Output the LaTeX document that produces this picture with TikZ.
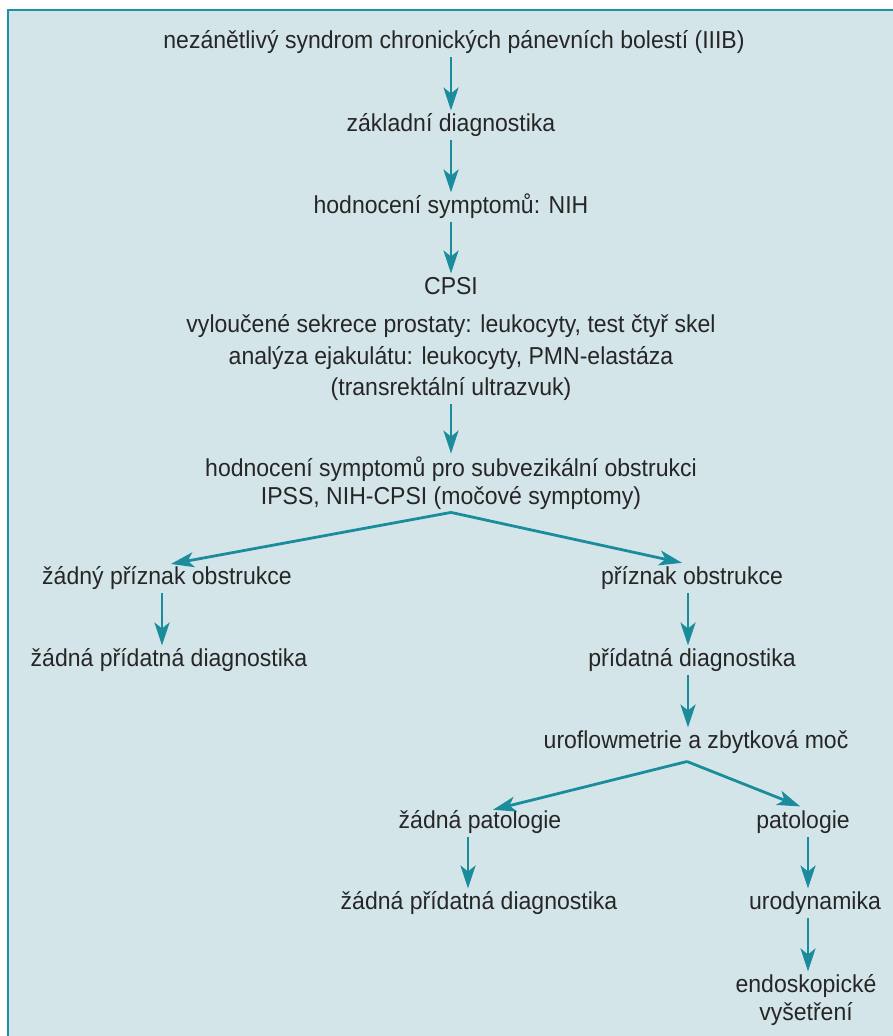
\documentclass[tikz,border=0pt]{standalone}
\usepackage{fontspec}
\setmainfont[FakeStretch=0.94]{Liberation Sans}
\usetikzlibrary{arrows.meta,calc}
\definecolor{bgc}{HTML}{D4E5EA}
\definecolor{framec}{HTML}{1A94A5}
\definecolor{arrc}{HTML}{1A8C9C}
\definecolor{txtc}{HTML}{262626}
\tikzset{
  base/.style={text=txtc, inner sep=0pt, outer sep=0pt, align=center,
    font=\fontsize{24.5}{28}\selectfont},
  txt/.style={base, text height=18pt, text depth=5pt},
  multi/.style={base},
  wide/.style={font=\fontsize{24.5}{31.5}\selectfont},
  arr/.style={draw=arrc, line width=2.8pt,
    -{Stealth[length=23pt,width=15pt,inset=6pt]},
    shorten <=3pt, shorten >=3pt}
}
\begin{document}
\begin{tikzpicture}[x=1pt,y=-1pt]
\useasboundingbox (0,0) rectangle (892,1036);
\fill[bgc] (8,10) rectangle (900,1044);
\draw[framec, line width=2pt] (8,1044) -- (8,10) -- (900,10);
% columns
\coordinate (cm) at (451,0);
\coordinate (cl) at (162,0);
\coordinate (cr) at (688,0);
\coordinate (crl) at (468,0);
\coordinate (crr) at (808,0);
% nodes
\node[txt] (t1) at (454,42) {nezánětlivý syndrom chronických pánevních bolestí (IIIB)};
\node[txt] (t2) at (451,125) {základní diagnostika};
\node[txt] (t3) at (451,207) {hodnocení symptomů: NIH};
\node[txt] (t4) at (451,288) {CPSI};
\node[multi,wide] (t5) at (451,358) {vyloučené sekrece prostaty: leukocyty, test čtyř skel\\analýza ejakulátu: leukocyty, PMN-elastáza\\(transrektální ultrazvuk)};
\node[multi] (t6) at (451,483) {hodnocení symptomů pro subvezikální obstrukci\\IPSS, NIH-CPSI (močové symptomy)};
\node[txt] (l1) at (167,578) {žádný příznak obstrukce};
\node[txt] (l2) at (169,660) {žádná přídatná diagnostika};
\node[txt] (r1) at (692,578) {příznak obstrukce};
\node[txt] (r2) at (692,660) {přídatná diagnostika};
\node[txt] (r3) at (696,742) {uroflowmetrie a zbytková moč};
\node[txt] (rl1) at (480,822) {žádná patologie};
\node[txt] (rl2) at (479,903) {žádná přídatná diagnostika};
\node[txt] (rr1) at (803,822) {patologie};
\node[txt] (rr2) at (815,903) {urodynamika};
\node[multi] (rr3) at (806,1000) {endoskopické\\vyšetření};
% connectors
\draw[arr] (t1.south -| cm) -- (t2.north -| cm);
\draw[arr] (t2.south -| cm) -- (t3.north -| cm);
\draw[arr] (t3.south -| cm) -- (t4.north -| cm);
\draw[arr] (t5.south -| cm) -- (t6.north -| cm);
\draw[arr, shorten <=0pt] ([yshift=-3pt]t6.south) -- ([xshift=1pt,yshift=2pt]l1.north);
\draw[arr, shorten <=0pt] ([yshift=-3pt]t6.south) -- ([xshift=-7pt,yshift=3pt]r1.north);
\draw[arr] (l1.south -| cl) -- (l2.north -| cl);
\draw[arr] (r1.south -| cr) -- (r2.north -| cr);
\draw[arr] (r2.south -| cr) -- (r3.north -| cr);
\draw[arr, shorten <=0pt] ([xshift=-9pt,yshift=-8pt]r3.south) -- ([xshift=10pt,yshift=0pt]rl1.north);
\draw[arr, shorten <=0pt] ([xshift=-9pt,yshift=-8pt]r3.south) -- ([xshift=0pt,yshift=3pt]rr1.north);
\draw[arr] (rl1.south -| crl) -- (rl2.north -| crl);
\draw[arr] (rr1.south -| crr) -- (rr2.north -| crr);
\draw[arr] (rr2.south -| crr) -- (rr3.north -| crr);
\end{tikzpicture}
\end{document}
